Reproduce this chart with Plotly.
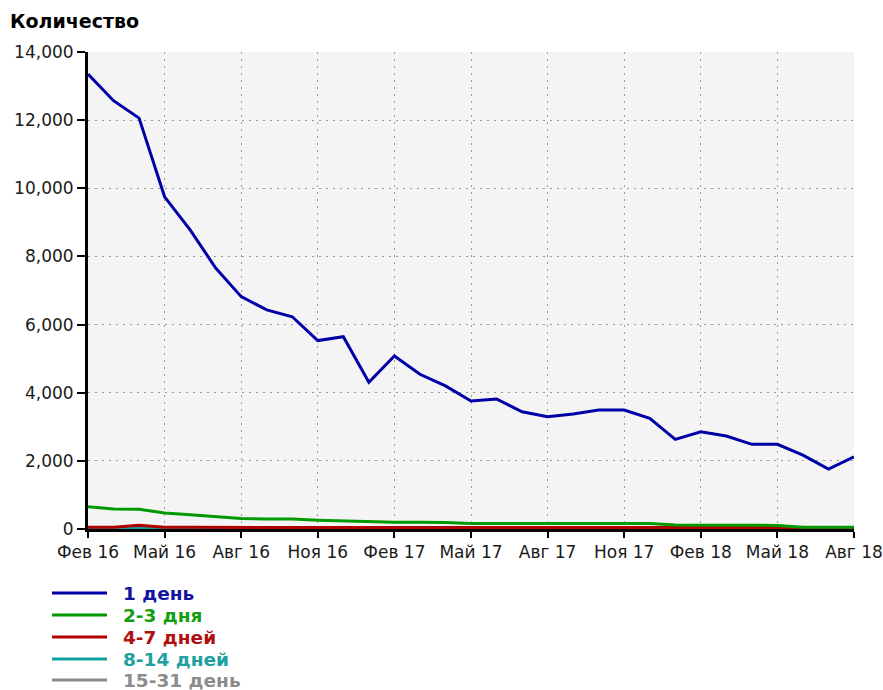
import plotly.graph_objects as go

# Monthly periods, Feb 2016 .. Aug 2018
months = [
    "Фев 16", "Мар 16", "Апр 16", "Май 16", "Июн 16", "Июл 16", "Авг 16", "Сен 16",
    "Окт 16", "Ноя 16", "Дек 16", "Янв 17", "Фев 17", "Мар 17", "Апр 17", "Май 17",
    "Июн 17", "Июл 17", "Авг 17", "Сен 17", "Окт 17", "Ноя 17", "Дек 17", "Янв 18",
    "Фев 18", "Мар 18", "Апр 18", "Май 18", "Июн 18", "Июл 18", "Авг 18",
]

day_1 = [
    13350, 12570, 12060, 9750, 8780, 7660, 6820, 6430,
    6230, 5530, 5645, 4305, 5080, 4540, 4200, 3755,
    3815, 3440, 3295, 3375, 3490, 3490, 3250, 2630,
    2855, 2730, 2485, 2485, 2170, 1760, 2120,
]
days_2_3 = [
    650, 590, 580, 470, 420, 370, 310, 290,
    290, 260, 240, 200, 200, 195, 190, 160,
    160, 160, 160, 160, 160, 160, 160, 120,
    120, 115, 110, 105, 50, 50, 50,
]
days_4_7 = [
    50, 50, 110, 50, 48, 48, 48, 48,
    48, 48, 48, 48, 48, 48, 48, 48,
    48, 48, 48, 48, 48, 48, 48, 45,
    45, 45, 45, 45, 40, 40, 40,
]
days_8_14 = [
    10, 10, 35, 10, 10, 10, 10, 10,
    10, 10, 10, 10, 10, 10, 10, 10,
    10, 10, 10, 10, 10, 10, 10, 10,
    10, 10, 10, 10, 10, 10, 10,
]
days_15_31 = [3] * 31

series_names = ["1 день", "2-3 дня", "4-7 дней", "8-14 дней", "15-31 день"]
series_values = [day_1, days_2_3, days_4_7, days_8_14, days_15_31]
series_colors = ["#0000a8", "#009a00", "#b00000", "#10a0a0", "#8c8c8c"]
legend_colors = ["#1414a0", "#10a010", "#b01010", "#20a0a0", "#8c8c8c"]

tick_labels = ["Фев 16", "Май 16", "Авг 16", "Ноя 16", "Фев 17", "Май 17",
               "Авг 17", "Ноя 17", "Фев 18", "Май 18", "Авг 18"]
y_ticks = [0, 2000, 4000, 6000, 8000, 10000, 12000, 14000]

W, H = 883, 690
L, R, T, B = 88, 29, 52, 161
plot_w = W - L - R
plot_h = H - T - B

def px_x(px):
    return (px - L) / plot_w

def px_y(py):
    return (H - B - py) / plot_h

fig = go.Figure()
# lower series first so larger ones sit on top
for name, vals, col in reversed(list(zip(series_names, series_values, series_colors))):
    fig.add_trace(go.Scatter(
        x=months, y=vals, mode="lines", name=name,
        line=dict(color=col, width=3), showlegend=False,
    ))

# legend block below the chart
shapes = []
annotations = []
row_y = [593, 615, 637, 659, 680]
for name, col, tcol, ry in zip(series_names, series_colors, legend_colors, row_y):
    shapes.append(dict(
        type="line", xref="paper", yref="paper",
        x0=px_x(52), x1=px_x(107), y0=px_y(ry), y1=px_y(ry),
        line=dict(color=col, width=3),
    ))
    annotations.append(dict(
        xref="paper", yref="paper", x=px_x(121), y=px_y(ry),
        xanchor="left", yanchor="middle", showarrow=False,
        text="<b>" + name + "</b>",
        font=dict(family="DejaVu Sans", size=18.5, color=tcol),
    ))

fig.update_layout(
    width=W, height=H,
    margin=dict(l=L, r=R, t=T, b=B, pad=0, autoexpand=False),
    paper_bgcolor="white",
    plot_bgcolor="#f4f4f4",
    font=dict(family="DejaVu Sans", size=17, color="#1a1a1a"),
    title=dict(
        text="<b>Количество</b>", xref="container", yref="container",
        x=10 / W, xanchor="left", y=1 - 21 / H, yanchor="middle",
        font=dict(family="DejaVu Sans", size=19, color="#000000"),
    ),
    shapes=shapes,
    annotations=annotations,
    showlegend=False,
)

fig.update_xaxes(
    type="category",
    categoryorder="array", categoryarray=months,
    range=[0, len(months) - 1],
    tickmode="array", tickvals=tick_labels, ticktext=tick_labels,
    showgrid=True, gridcolor="#9a9a9a", gridwidth=1, griddash="2px,5px",
    showline=True, linecolor="#000000", linewidth=3,
    ticks="outside", ticklen=6, tickwidth=2, tickcolor="#000000",
    tickangle=0, zeroline=False, automargin=False,
)
fig.update_yaxes(
    range=[0, 14000],
    tickmode="array", tickvals=y_ticks, tickformat=",",
    showgrid=True, gridcolor="#9a9a9a", gridwidth=1, griddash="2px,5px",
    showline=True, linecolor="#000000", linewidth=3,
    ticks="outside", ticklen=8, tickwidth=2, tickcolor="#000000",
    zeroline=False, automargin=False,
)

fig.write_html("out.html")
